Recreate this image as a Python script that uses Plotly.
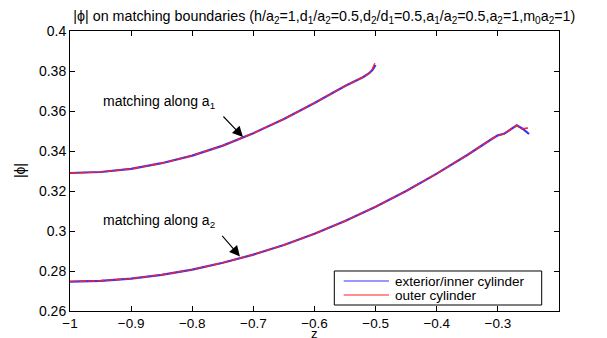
import plotly.graph_objects as go

# Upper curve: matching along a1
z_a1 = [-1.0, -0.95, -0.9, -0.85, -0.8, -0.75, -0.7, -0.65, -0.6, -0.55, -0.52, -0.51, -0.505, -0.5]
phi_a1_ext = [0.3290, 0.3295, 0.3311, 0.3339, 0.3377, 0.3427, 0.3489, 0.3560, 0.3640, 0.3725, 0.3770, 0.3790, 0.3806, 0.3830]
phi_a1_out = [0.3290, 0.3295, 0.3311, 0.3339, 0.3377, 0.3427, 0.3489, 0.3560, 0.3640, 0.3725, 0.3770, 0.3790, 0.3812, 0.3848]

# Lower curve: matching along a2
z_a2_ext = [-1.0, -0.95, -0.9, -0.85, -0.8, -0.75, -0.7, -0.65, -0.6, -0.55, -0.5, -0.45, -0.4, -0.35,
            -0.31, -0.3, -0.29, -0.28, -0.269, -0.259, -0.254, -0.249]
phi_a2_ext = [0.2747, 0.2751, 0.2762, 0.2781, 0.2807, 0.2841, 0.2882, 0.2930, 0.2986, 0.3050, 0.3121, 0.3200, 0.3287, 0.3380,
              0.3460, 0.3478, 0.3486, 0.3505, 0.3528, 0.3510, 0.3498, 0.3485]
z_a2_out = [-1.0, -0.95, -0.9, -0.85, -0.8, -0.75, -0.7, -0.65, -0.6, -0.55, -0.5, -0.45, -0.4, -0.35,
            -0.31, -0.3, -0.29, -0.28, -0.269, -0.261, -0.25]
phi_a2_out = [0.2747, 0.2751, 0.2762, 0.2781, 0.2807, 0.2841, 0.2882, 0.2930, 0.2986, 0.3050, 0.3121, 0.3200, 0.3287, 0.3380,
              0.3460, 0.3478, 0.3486, 0.3505, 0.3528, 0.3511, 0.3515]

x_ticks = [-1, -0.9, -0.8, -0.7, -0.6, -0.5, -0.4, -0.3]
x_tick_labels = ["\u22121", "\u22120.9", "\u22120.8", "\u22120.7", "\u22120.6", "\u22120.5", "\u22120.4", "\u22120.3"]
y_ticks = [0.26, 0.28, 0.30, 0.32, 0.34, 0.36, 0.38, 0.40]
y_tick_labels = ["0.26", "0.28", "0.3", "0.32", "0.34", "0.36", "0.38", "0.4"]

series_names = ["exterior/inner cylinder", "outer cylinder"]

BLUE = "#3333ff"
RED = "#ff2020"
FONT = "Liberation Sans, Arial, Helvetica, sans-serif"

fig = go.Figure()
for z, p in [(z_a1, phi_a1_ext), (z_a2_ext, phi_a2_ext)]:
    fig.add_trace(go.Scatter(x=z, y=p, mode="lines", showlegend=False, name=series_names[0],
                             line=dict(color=BLUE, width=2.2), hoverinfo="skip"))
for z, p in [(z_a1, phi_a1_out), (z_a2_out, phi_a2_out)]:
    fig.add_trace(go.Scatter(x=z, y=p, mode="lines", showlegend=False, name=series_names[1],
                             line=dict(color=RED, width=1.4, dash="7px,2px"), hoverinfo="skip"))

annots = [
    dict(x=-0.717, y=0.347, ax=-21, ay=-22),
    dict(x=-0.722, y=0.2873, ax=-19, ay=-22),
]
for a in annots:
    fig.add_annotation(x=a["x"], y=a["y"], ax=a["ax"], ay=a["ay"], xref="x", yref="y",
                       axref="pixel", ayref="pixel", text="", showarrow=True,
                       arrowhead=2, arrowsize=1.9, arrowwidth=1.1, arrowcolor="black")
fig.add_annotation(x=-0.855, y=0.3647, text="matching along a<sub>1</sub>", showarrow=False,
                   font=dict(size=14, color="black", family=FONT))
fig.add_annotation(x=-0.855, y=0.3051, text="matching along a<sub>2</sub>", showarrow=False,
                   font=dict(size=14, color="black", family=FONT))
# axis titles
fig.add_annotation(x=0.5, y=-0.0786, xref="paper", yref="paper", text="z", showarrow=False,
                   yanchor="middle", borderpad=0, font=dict(size=13, color="black", family=FONT))
fig.add_annotation(x=-0.102, y=0.5, xref="paper", yref="paper", text="|ϕ|", showarrow=False,
                   textangle=-90, xanchor="center", font=dict(size=14, color="black", family=FONT))

# legend drawn as box, sample lines and labels
fig.add_shape(type="rect", xref="paper", yref="paper", x0=0.5405, x1=0.9646, y0=0.0214, y1=0.1429,
              line=dict(color="black", width=1), fillcolor="white", layer="above")
leg_rows = [(0.1071, BLUE), (0.0571, RED)]
for (yy, col), nm in zip(leg_rows, series_names):
    fig.add_shape(type="line", xref="paper", yref="paper", x0=0.5597, x1=0.6524, y0=yy, y1=yy,
                  line=dict(color=col, width=1.2), layer="above")
    fig.add_annotation(x=0.6626, y=yy, xref="paper", yref="paper", text=nm, showarrow=False,
                       xanchor="left", yanchor="middle", borderpad=0,
                       font=dict(size=13.5, color="black", family=FONT))

fig.update_layout(
    width=607, height=338,
    margin=dict(l=70, r=48, t=31, b=27, autoexpand=False),
    paper_bgcolor="white", plot_bgcolor="white",
    font=dict(family=FONT, size=14, color="black"),
    title=dict(text="|ϕ| on matching boundaries (h/a<sub>2</sub>=1,d<sub>1</sub>/a<sub>2</sub>=0.5,d<sub>2</sub>/d<sub>1</sub>=0.5,a<sub>1</sub>/a<sub>2</sub>=0.5,a<sub>2</sub>=1,m<sub>0</sub>a<sub>2</sub>=1)",
               x=0.52, xref="paper", xanchor="center", y=0.953, yref="container", yanchor="middle",
               font=dict(size=14.3, family=FONT)),
    showlegend=False,
    xaxis=dict(range=[-1, -0.2], tickvals=x_ticks, ticktext=x_tick_labels, automargin=False,
               showgrid=False, zeroline=False, showline=True, linecolor="black", linewidth=1,
               mirror="ticks", ticks="inside", ticklen=5, tickcolor="black",
               tickfont=dict(size=13.5)),
    yaxis=dict(range=[0.26, 0.40], tickvals=y_ticks, ticktext=y_tick_labels, automargin=False,
               showgrid=False, zeroline=False, showline=True, linecolor="black", linewidth=1,
               mirror="ticks", ticks="inside", ticklen=5, tickcolor="black",
               tickfont=dict(size=14)),
)

fig.write_html("out.html")
